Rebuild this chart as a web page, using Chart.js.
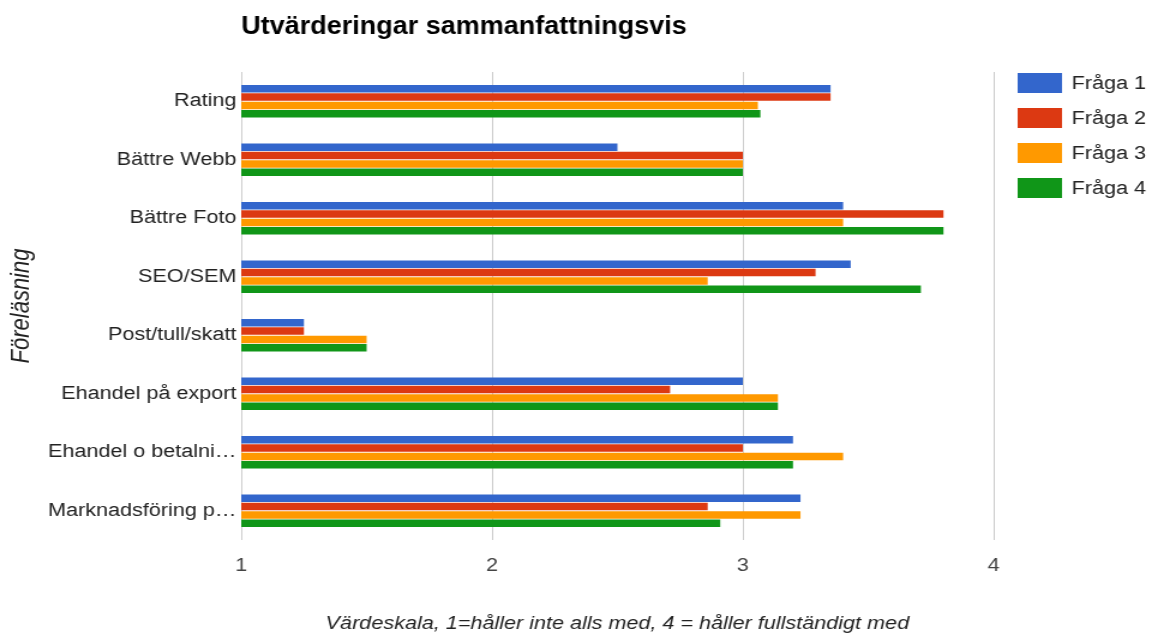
<!DOCTYPE html>
<html>
<head>
<meta charset="utf-8">
<script src="https://cdn.jsdelivr.net/npm/chart.js@4/dist/chart.umd.min.js"></script>
<style>
  html, body { margin: 0; padding: 0; background: #fff; overflow: hidden; }
  /* the reference is a 960 wide chart stretched to 1152 */
  #wrap { width: 960px; height: 642px; transform: scaleX(1.2); transform-origin: 0 0; }
</style>
</head>
<body>
<div id="wrap"><canvas id="chart" width="960" height="642"></canvas></div>
<script>
const categories = [
  "Rating",
  "Bättre Webb",
  "Bättre Foto",
  "SEO/SEM",
  "Post/tull/skatt",
  "Ehandel på export",
  "Ehandel o betalni…",
  "Marknadsföring p…",
];
const fraga1 = [3.35, 2.5, 3.4, 3.43, 1.25, 3.0, 3.2, 3.23];
const fraga2 = [3.35, 3.0, 3.8, 3.29, 1.25, 2.71, 3.0, 2.86];
const fraga3 = [3.06, 3.0, 3.4, 2.86, 1.5, 3.14, 3.4, 3.23];
const fraga4 = [3.07, 3.0, 3.8, 3.71, 1.5, 3.14, 3.2, 2.91];
const seriesNames = ["Fråga 1", "Fråga 2", "Fråga 3", "Fråga 4"];
const seriesColors = ["#3366cc", "#dc3912", "#ff9900", "#109618"];
const xTicks = [1, 2, 3, 4];

const FONT = "Arial, 'Liberation Sans', sans-serif";

// titel + legend ritas för hand så att de hamnar som i originalet
const extrasPlugin = {
  id: "extras",
  afterDraw(chart) {
    const ctx = chart.ctx;
    const area = chart.chartArea;
    ctx.save();
    ctx.fillStyle = "#000";
    ctx.font = "bold 22.5px " + FONT;
    ctx.textBaseline = "alphabetic";
    ctx.textAlign = "left";
    ctx.translate(area.left, 34);
    ctx.scale(1, 1.12);
    ctx.fillText("Utvärderingar sammanfattningsvis", 0, 0);
    ctx.restore();

    ctx.save();
    ctx.font = "18px " + FONT;
    ctx.textBaseline = "middle";
    chart.data.datasets.forEach((ds, i) => {
      const cy = 83 + i * 35;
      ctx.fillStyle = ds.backgroundColor;
      ctx.fillRect(848, cy - 10, 37, 20);
      ctx.fillStyle = "#222";
      ctx.fillText(ds.label, 893, cy + 1);
    });
    ctx.restore();
  },
};

const data = {
  labels: categories,
  datasets: [fraga1, fraga2, fraga3, fraga4].map((vals, i) => ({
    label: seriesNames[i],
    data: vals,
    backgroundColor: seriesColors[i],
    borderWidth: 0,
    categoryPercentage: 0.57,
    barPercentage: 0.9,
  })),
};

const config = {
  type: "bar",
  data,
  plugins: [extrasPlugin],
  options: {
    indexAxis: "y",
    responsive: false,
    animation: false,
    layout: { padding: { top: 72, right: 132, bottom: 0, left: 0 } },
    plugins: {
      legend: { display: false },
      title: { display: false },
      tooltip: { enabled: false },
    },
    scales: {
      x: {
        type: "linear",
        min: 1,
        max: 4,
        afterBuildTicks: (scale) => {
          scale.ticks = xTicks.map((v) => ({ value: v }));
        },
        afterFit: (scale) => {
          scale.height = 102;
        },
        grid: { color: "#cccccc", drawTicks: false, lineWidth: 1 },
        border: { display: false },
        ticks: { color: "#444", font: { family: FONT, size: 18 }, padding: 15 },
        title: {
          display: true,
          text: "Värdeskala, 1=håller inte alls med, 4 = håller fullständigt med",
          color: "#222",
          font: { family: FONT, size: 18, style: "italic" },
          padding: { top: 0, bottom: 7 },
        },
      },
      y: {
        afterFit: (scale) => {
          scale.width = 201;
        },
        grid: { display: false, drawTicks: false },
        border: { display: false },
        ticks: { color: "#222", font: { family: FONT, size: 18 }, padding: 4 },
        title: {
          display: true,
          text: "Föreläsning",
          color: "#222",
          font: { family: FONT, size: 22, style: "italic" },
          padding: { top: 5, bottom: 0 },
        },
      },
    },
  },
};

new Chart(document.getElementById("chart"), config);
</script>
</body>
</html>
